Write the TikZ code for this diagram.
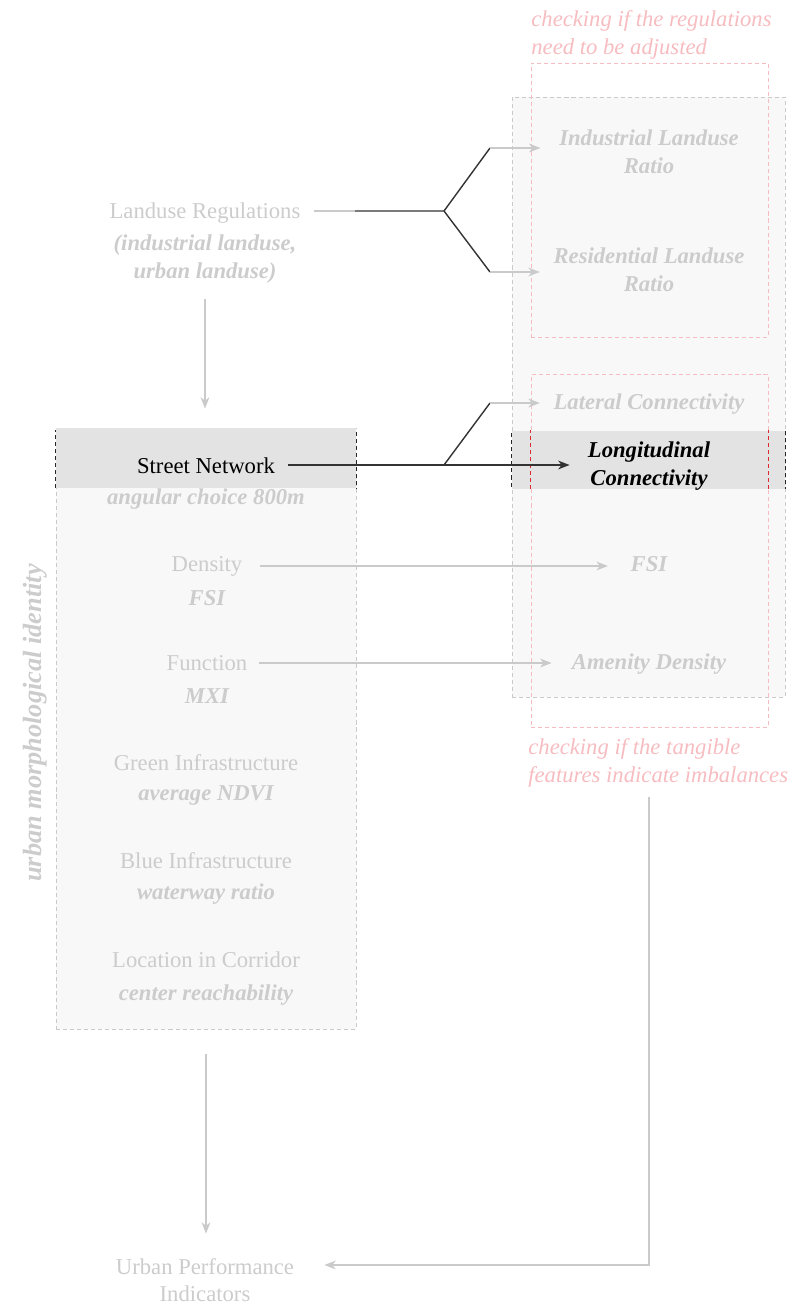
\documentclass[tikz,border=0pt]{standalone}
\usepackage{fontspec}
\setmainfont{Liberation Serif}
\usepackage{xcolor}
\usetikzlibrary{arrows.meta}
\usetikzlibrary{math}
\definecolor{mygrey}{RGB}{202,202,202}
\definecolor{mytext}{RGB}{204,204,204}
\definecolor{mypink}{RGB}{246,188,192}
\definecolor{myred}{RGB}{222,40,48}
\definecolor{myfill}{RGB}{248,248,248}
\definecolor{myband}{RGB}{227,227,227}

\tikzset{
txt/.style={inner sep=0pt, text=mytext, font=\fontsize{12.9}{15.8}\selectfont, align=center},
metric/.style={txt, font=\fontsize{12.9}{15.8}\selectfont\bfseries\itshape},
note/.style={inner sep=0pt, text=mypink, font=\fontsize{12.9}{15.6}\selectfont\itshape, align=left, anchor=west},
greyline/.style={draw=mygrey, line width=0.8pt},
blackline/.style={draw=black!80, line width=0.8pt},
greyarrow/.style={greyline, -{Stealth[length=6.5pt, width=5pt, inset=2pt]}},
blackarrow/.style={blackline, -{Stealth[length=6.5pt, width=5pt, inset=2pt]}},
greybox/.style={draw=mygrey, line width=0.5pt, dash pattern=on 2.3pt off 1.7pt, fill=myfill},
pinkbox/.style={draw=mypink, line width=0.5pt, dash pattern=on 2.3pt off 1.7pt},
}

\begin{document}
\begin{tikzpicture}[x=0.02cm, y=-0.02cm]
\tikzmath{
\xl=205;
\xr=649;
\xfork=444;
\xtip=490;
}
\useasboundingbox (0,0) rectangle (794,1304);

% boxes
\node[greybox, minimum width=6cm, minimum height=12.02cm] (morph) at (206,728.5) {};
\node[greybox, minimum width=5.46cm, minimum height=12cm] (check) at (648.5,397) {};
\node[pinkbox, minimum width=4.74cm, minimum height=5.48cm] (regbox) at (649.5,200) {};
\node[pinkbox, minimum width=4.74cm, minimum height=7.06cm] (tangbox) at (649.5,551) {};

% highlighted row
\fill[myband] (56,428) rectangle (356,488);
\fill[myband] (512,431) rectangle (785,489);
\begin{scope}
\clip (0,430) rectangle (794,488);
\draw[greybox, draw=black!85, fill=none] (morph.south west) rectangle (morph.north east);
\draw[greybox, draw=black!85, fill=none] (check.south west) rectangle (check.north east);
\draw[pinkbox, draw=myred] (tangbox.south west) rectangle (tangbox.north east);
\end{scope}

% left column
\node[txt] (landuse) at (\xl,213) {Landuse Regulations};
\node[metric] (landusesub) at (\xl,259) {(industrial landuse,\\urban landuse)};
\node[txt, text=black] (street) at (206,466) {Street Network};
\node[metric] (angular) at (206,499) {angular choice 800m};
\node[txt] (density) at (207,566) {Density};
\node[metric] (densfsi) at (207,598) {FSI};
\node[txt] (function) at (207,663) {Function};
\node[metric] (mxi) at (207,696) {MXI};
\node[txt] (green) at (206,763) {Green Infrastructure};
\node[metric] (ndvi) at (206,795) {average NDVI};
\node[txt] (blue) at (206,861) {Blue Infrastructure};
\node[metric] (waterway) at (206,894) {waterway ratio};
\node[txt] (location) at (206,960) {Location in Corridor};
\node[metric] (reach) at (206,995) {center reachability};
\node[metric, rotate=90, font=\fontsize{15}{18}\selectfont\bfseries\itshape] (identity) at (35,723) {urban morphological identity};
\node[txt] (urban) at (\xl,1280) {Urban Performance\\Indicators};

% right column
\node[metric] (industrial) at (\xr,152) {Industrial Landuse\\Ratio};
\node[metric] (residential) at (\xr,270) {Residential Landuse\\Ratio};
\node[metric] (lateral) at (\xr,404) {Lateral Connectivity};
\node[metric, text=black] (longit) at (\xr,466) {Longitudinal\\Connectivity};
\node[metric] (fsi) at (\xr,564) {FSI};
\node[metric] (amenity) at (\xr,664) {Amenity Density};
\node[note, font=\fontsize{12.9}{16.2}\selectfont\itshape] (regnote) at (531,35) {checking if the regulations\\need to be adjusted};
\node[note] (tangnote) at (528,763) {checking if the tangible\\features indicate imbalances};

% landuse regulations
\coordinate (lujoin) at (355,211);
\coordinate (lufork) at (\xfork,211);
\coordinate (luup) at (\xtip,148);
\coordinate (ludown) at (\xtip,272);
\draw[greyline, shorten <=0.26cm] (landuse.east |- lujoin) -- (lujoin);
\draw[blackline] (lujoin) -- (lufork) -- (luup);
\draw[blackline] (lufork) -- (ludown);
\draw[greyarrow, shorten >=0.37cm] (luup) -- (luup -| industrial.west);
\draw[greyarrow, shorten >=0.27cm] (ludown) -- (ludown -| residential.west);
\draw[greyarrow, shorten <=0.3cm, shorten >=0.38cm] (landusesub.south) -- (landusesub.south |- morph.north);

% street network
\coordinate (stfork) at (\xfork,465);
\coordinate (stup) at (\xtip,403);
\draw[blackarrow, shorten <=0.26cm, shorten >=0.36cm] (street.east |- stfork) -- (longit.west |- stfork);
\draw[blackline] (stfork) -- (stup);
\draw[greyarrow, shorten >=0.27cm] (stup) -- (stup -| lateral.west);

% density and function
\draw[greyarrow, shorten <=0.34cm, shorten >=0.45cm] (density.east) -- (density.east -| fsi.west);
\draw[greyarrow, shorten <=0.22cm, shorten >=0.4cm] (function.east) -- (function.east -| amenity.west);

% towards performance
\coordinate (tangturn) at (649,1265);
\draw[greyarrow, shorten <=0.5cm, shorten >=0.48cm] (morph.south) -- (morph.south |- urban.north);
\draw[greyarrow, shorten <=0.2cm, shorten >=0.6cm] (tangnote.south -| tangturn) -- (tangturn) -- (tangturn -| urban.east);
\end{tikzpicture}
\end{document}
